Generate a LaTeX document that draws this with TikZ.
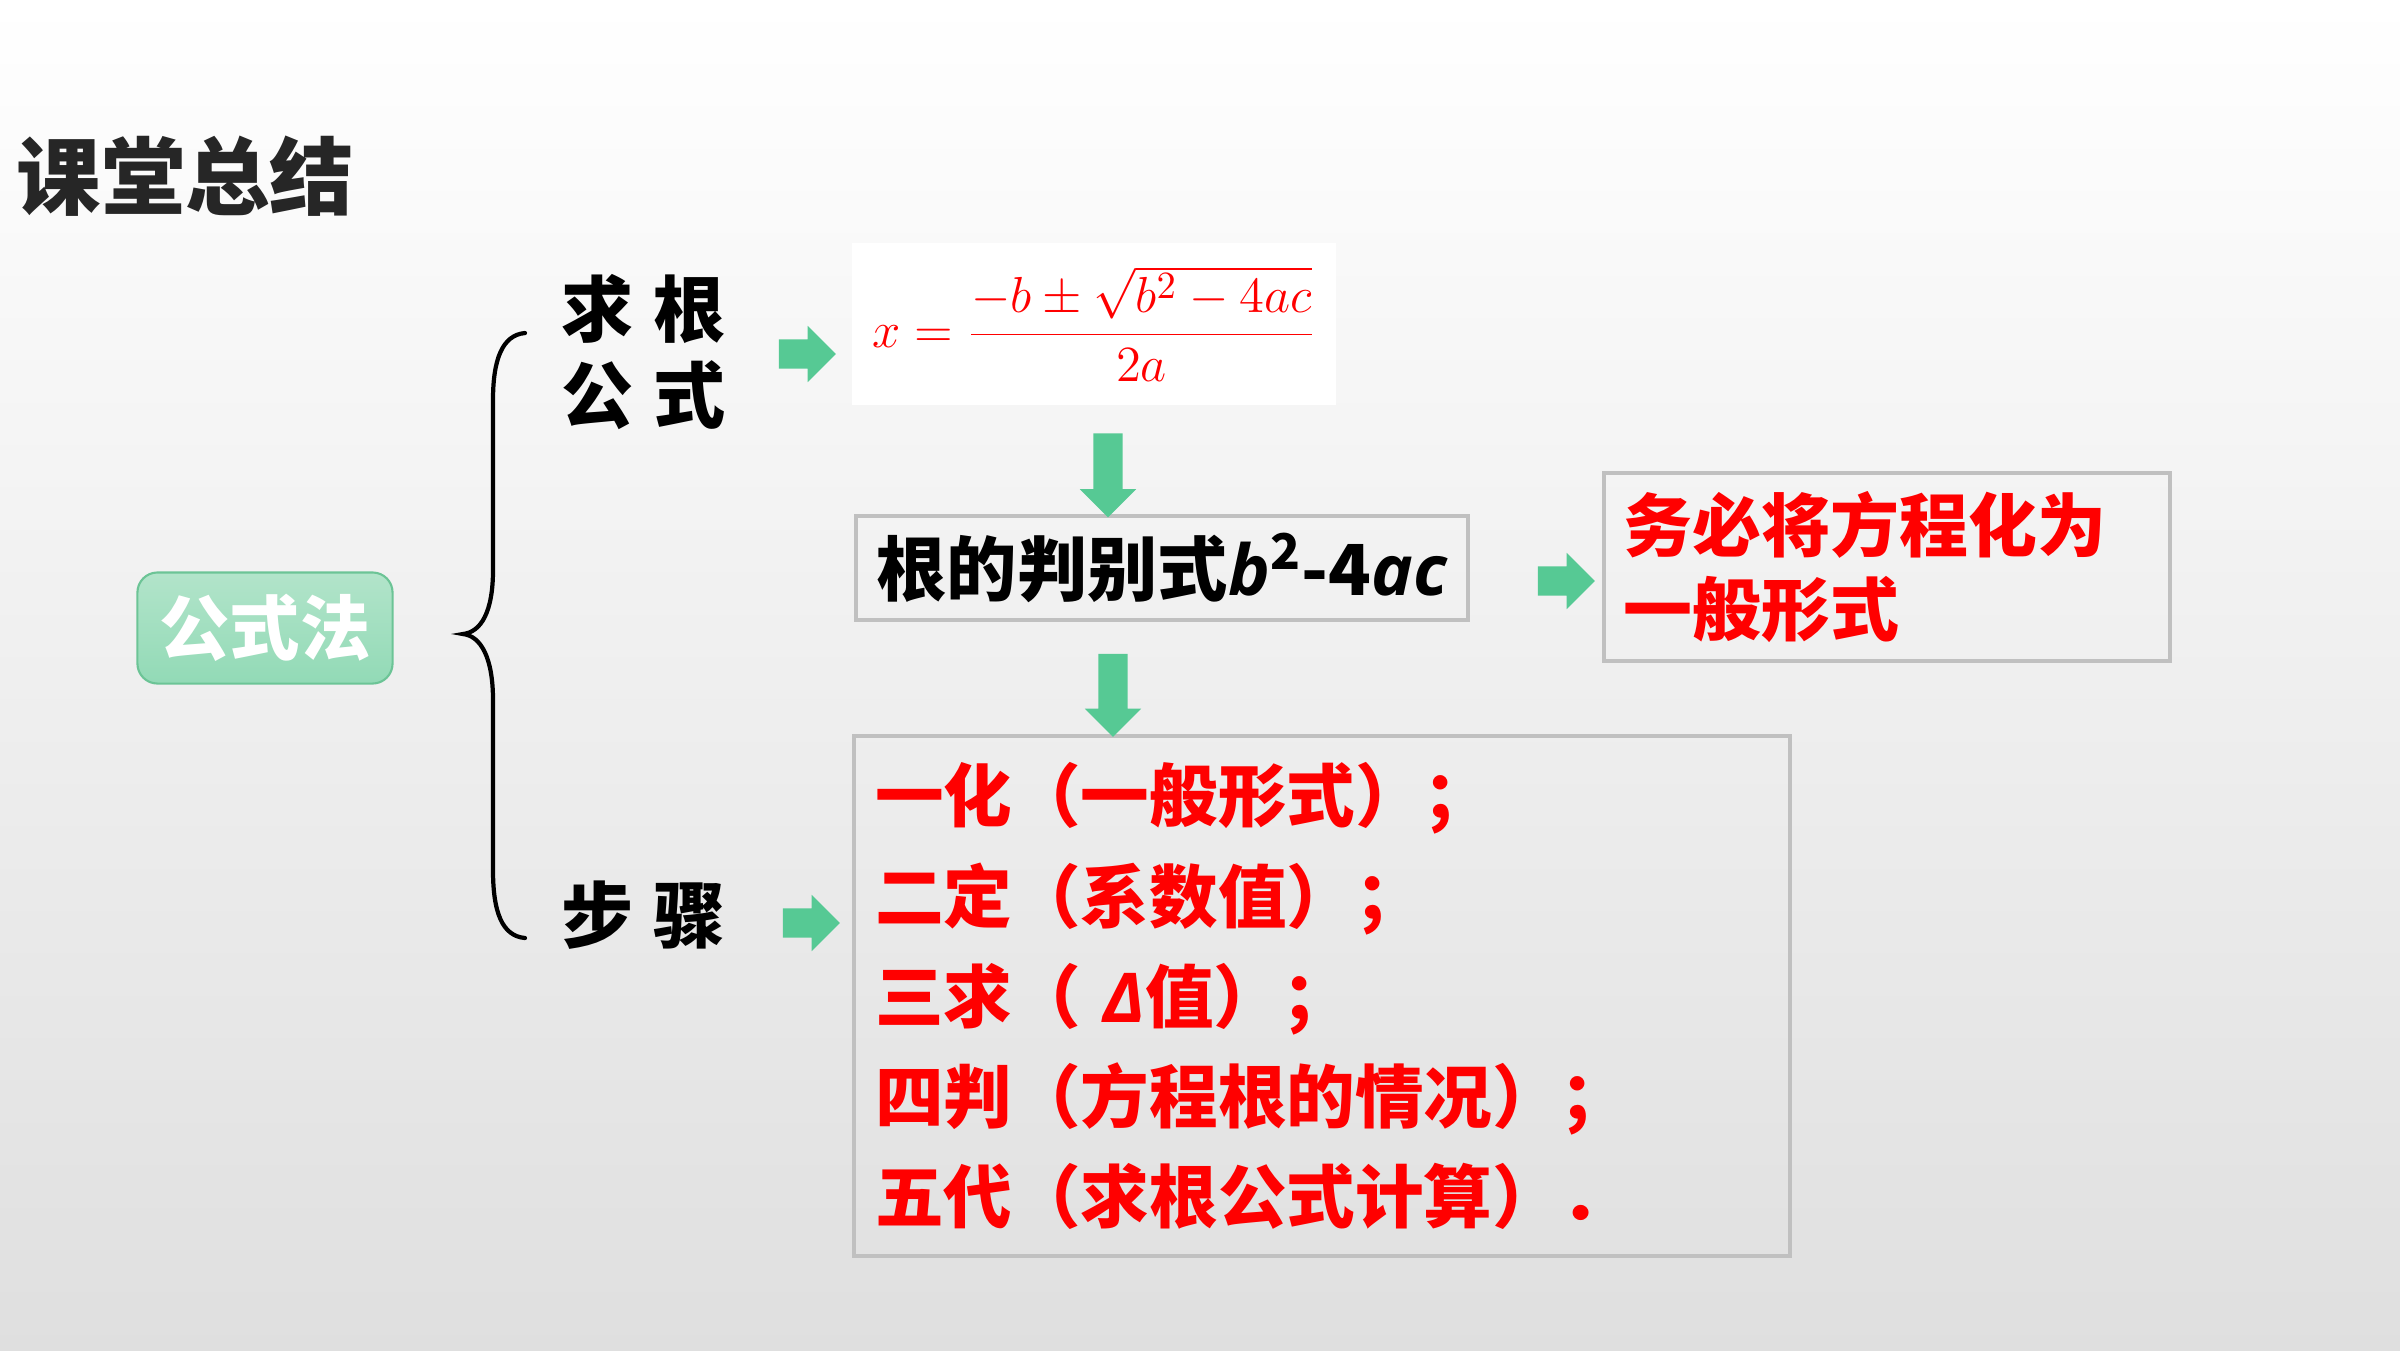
\documentclass[tikz,border=0pt]{standalone}
\usepackage{fontspec}
\setmainfont{Noto Sans CJK SC}
\newfontfamily\itfont{Open Sans}
\usetikzlibrary{shapes.arrows}
\definecolor{arrowgreen}{RGB}{86,201,148}
\definecolor{boxgray}{RGB}{192,192,192}
\definecolor{titlegray}{RGB}{38,38,38}
\definecolor{methodtop}{RGB}{178,228,202}
\definecolor{methodbot}{RGB}{146,218,182}
\definecolor{methodline}{RGB}{108,196,150}

\begin{document}
\begin{tikzpicture}[x=0.01cm, y=-0.01cm,
        title/.style = {font=\fontsize{24}{28}\selectfont\bfseries,
                        text=titlegray, inner sep=0pt},
       method/.style = {rounded corners=2mm, top color=methodtop,
                        bottom color=methodbot, draw=methodline,
                        line width=0.6pt, minimum width=25.5mm,
                        minimum height=11.1mm, text=white,
                        font=\fontsize{20}{24}\selectfont\bfseries},
       branch/.style = {font=\fontsize{20.5}{24.2}\selectfont\bfseries,
                        align=left, inner sep=0pt},
        brace/.style = {line width=1.2pt, line cap=round},
       boxed/.style = {draw=boxgray, line width=1.2pt},
       arrow/.style = {single arrow, fill=arrowgreen, inner xsep=0pt,
                       inner ysep=1.4mm, single arrow head extend=1.35mm,
                       single arrow tip angle=90, minimum width=0pt,
                       minimum height=5.7mm}
                                ]
        % background
        \shade[top color=white, middle color=gray!6, bottom color=gray!25]
            (0,0) rectangle (2400,1350);
        % title and method
        \node[title, anchor=west] (title) at (16,176) {课堂总结};
        \node[method] (method) at (265,628) {公式法};
        % brace
        \draw[brace] (525,333) .. controls (502,335) and (493,360) .. (493,400)
            -- (493,570) .. controls (493,612) and (481,632) .. (463,634)
            .. controls (481,636) and (493,658) .. (493,700)
            -- (493,870) .. controls (493,912) and (502,936) .. (525,938);
        \node[branch, anchor=west] (root) at (561,352)
            {求\hspace{2mm}根\\公\hspace{2mm}式};
        \node[branch, anchor=west] (steps) at (561,915) {步\hspace{2mm}骤};

        % formula and boxes
        \node[fill=white, text=red, minimum width=48.4mm, minimum height=16.2mm,
              font=\fontsize{15}{18}\selectfont] (formula) at (1094,324)
            {$\displaystyle x=\frac{-b\pm\sqrt{b^2-4ac}}{2a}$};
        \node[boxed, minimum width=61.2mm, minimum height=10.4mm,
              font=\fontsize{20}{24}\selectfont\bfseries] (disc) at (1162,568)
            {根的判别式{\itfont\itshape b}\textsuperscript{2}-4{\itfont\itshape ac}};
        \node[boxed, text=red, align=left, text width=52.6mm, inner xsep=2mm,
              minimum height=18.8mm,
              font=\fontsize{19.6}{23.9}\selectfont\bfseries] (note) at (1887,567)
            {务必将方程化为\\一般形式};
        \node[boxed, text=red, align=left, text width=89.3mm, inner xsep=2.1mm,
              minimum height=52mm,
              font=\fontsize{19.5}{28.45}\selectfont\bfseries] (list) at (1322,996)
            {一化（一般形式）；\\
             二定（系数值）；\\
             三求（ {\itfont\itshape Δ}值）；\\
             四判（方程根的情况）；\\
             五代（求根公式计算）．};

        % arrows
        \node[arrow] (to formula) at (800,354) {};
        \node[arrow] (to note) at (1559,581) {};
        \node[arrow] (to list) at (804,923) {};
        \node[arrow, rotate=-90, minimum height=8.4mm] (to disc) at (1108,468) {};
        \node[arrow, rotate=-90, minimum height=8.3mm] (to steps) at (1113,688) {};
\end{tikzpicture}
\end{document}
